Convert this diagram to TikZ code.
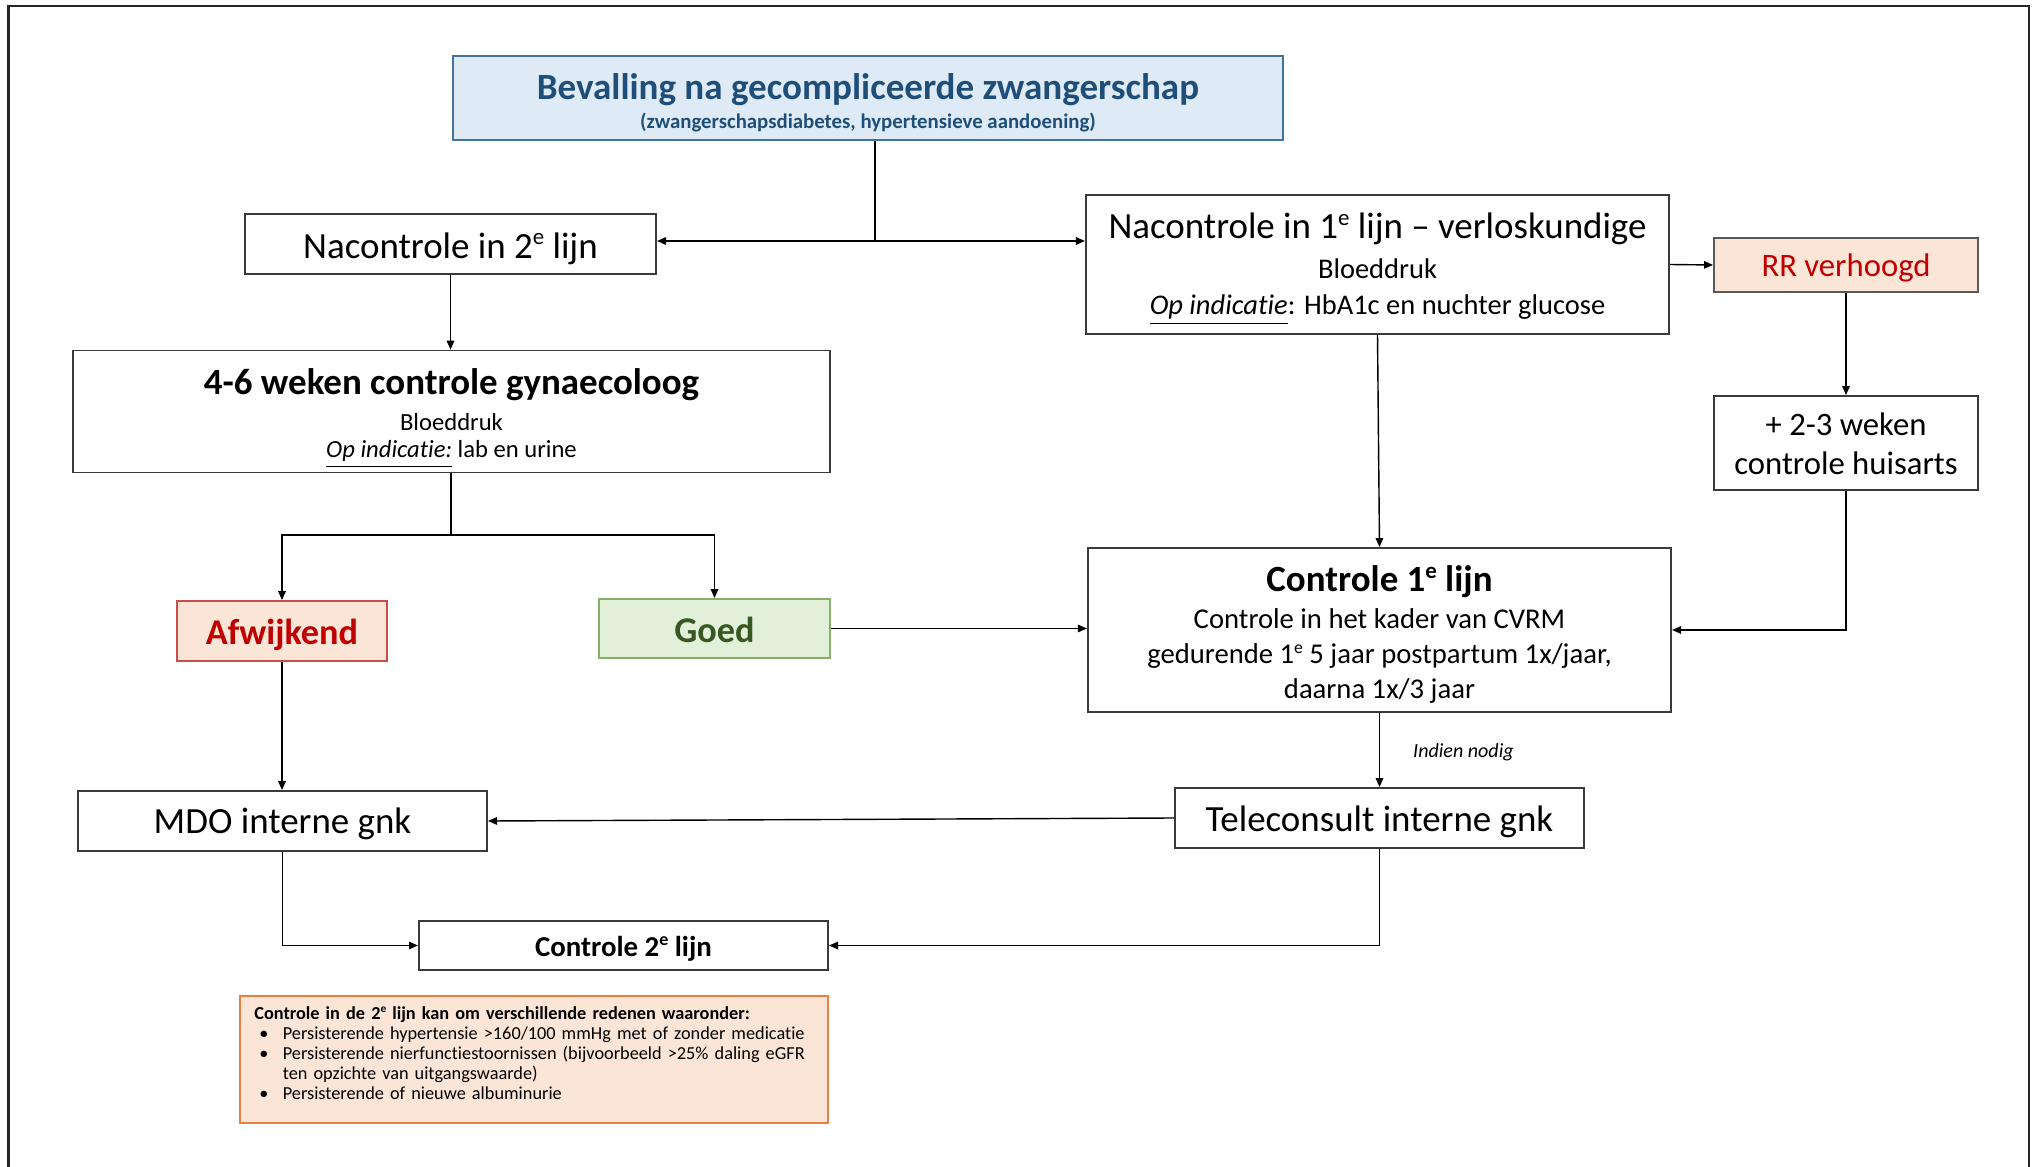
\documentclass[tikz,border=0pt]{standalone}
\usepackage{fontspec}
\usepackage{graphicx}
\setmainfont{Carlito}[Ligatures={TeX,NoCommon}]
\usetikzlibrary{arrows.meta,calc}
\definecolor{titlefill}{HTML}{DEEBF7}
\definecolor{titleborder}{HTML}{41719C}
\definecolor{titletext}{HTML}{1F4E79}
\definecolor{peach}{HTML}{FBE5D6}
\definecolor{rrborder}{HTML}{595959}
\definecolor{afwborder}{HTML}{CC4B4B}
\definecolor{redtext}{HTML}{C00000}
\definecolor{goedfill}{HTML}{E2F0D9}
\definecolor{goedborder}{HTML}{86B06A}
\definecolor{goedtext}{HTML}{385723}
\definecolor{noteborder}{HTML}{E9803F}
\definecolor{boxgray}{HTML}{3A3A3A}
\newcommand{\fsbig}{\fontsize{10.5pt}{12pt}\selectfont}
\newcommand{\nolsl}{\lineskiplimit=-20pt\relax}
\newcommand{\supe}[1]{\raisebox{0.36em}{\scalebox{0.62}{#1}}}
\newcommand{\tstrut}[1]{\rule{0pt}{#1}}
\newcommand{\bstrut}[1]{\rule[-#1]{0pt}{#1}}
\begin{document}
\begin{tikzpicture}[x=0.01cm,y=-0.01cm]
\tikzset{
  box/.style={draw=boxgray, line width=0.5pt, fill=white, inner sep=0pt, align=center},
  conn/.style={draw=black, line width=0.4pt},
  arr/.style={conn, -{Triangle[length=0.09cm,width=0.075cm]}},
}
\useasboundingbox (0,0) rectangle (2036,1167);
\draw[line width=0.6pt, black!85] (8.5,1167) -- (8.5,6) -- (2029,6) -- (2029,1167);

% nodes
\node[box, draw=titleborder, fill=titlefill, text=titletext,
      minimum width=8.30cm, minimum height=0.84cm,
      font=\bfseries\fontsize{5.92pt}{8.11pt}\selectfont\nolsl] (title) at (868,98)
  {\tstrut{0.40cm}{\fontsize{10.53pt}{12pt}\selectfont Bevalling na gecompliceerde zwangerschap}\\(zwangerschapsdiabetes, hypertensieve aandoening)\bstrut{0.085cm}};

\node[box, minimum width=4.11cm, minimum height=0.60cm, font=\fsbig,
      text height=9.24pt, text depth=1.26pt] (n2) at (450.5,244)
  {Nacontrole in 2\supe{e} lijn};

\node[box, minimum width=5.83cm, minimum height=1.39cm,
      font=\fontsize{8.1pt}{10.1pt}\selectfont\nolsl] (n1) at (1377.5,264.5)
  {\tstrut{0.42cm}{\fsbig Nacontrole in 1\supe{e} lijn \textendash{} verloskundige}\\[1.28pt]
   Bloeddruk\\ \underline{\textit{Op indicatie}}: HbA1c en nuchter glucose\bstrut{0.185cm}};

\node[box, fill=peach, draw=rrborder, text=redtext, minimum width=2.64cm, minimum height=0.54cm,
      font=\fontsize{9.3pt}{11pt}\selectfont, text height=8.0pt, text depth=1.3pt] (rr) at (1846,265) {RR verhoogd};

\node[box, minimum width=2.64cm, minimum height=0.94cm,
      font=\fontsize{9.3pt}{11.1pt}\selectfont\nolsl] (hu) at (1846,443)
  {\tstrut{0.34cm}+ 2-3 weken\\controle huisarts\bstrut{0.096cm}};

\node[box, minimum width=7.57cm, minimum height=1.19cm,
      font=\fontsize{7pt}{7.8pt}\selectfont\nolsl] (g46) at (451.5,411.5)
  {\tstrut{0.44cm}{\fsbig\bfseries 4-6 weken controle gynaecoloog}\\[2.28pt]
   Bloeddruk\\ \underline{\textit{Op indicatie:}} lab en urine\bstrut{0.15cm}};

\node[box, fill=peach, draw=afwborder, text=redtext, minimum width=2.10cm, minimum height=0.60cm,
      font=\bfseries\fontsize{10.3pt}{12pt}\selectfont, text height=9.0pt, text depth=1.3pt] (afw) at (282,631) {Afwijkend};

\node[box, fill=goedfill, draw=goedborder, text=goedtext, minimum width=2.31cm, minimum height=0.59cm,
      font=\bfseries\fontsize{10.3pt}{12pt}\selectfont, text height=9.06pt, text depth=1.24pt] (goed) at (714.5,628.5) {Goed};

\node[box, minimum width=5.83cm, minimum height=1.64cm,
      font=\fontsize{8.15pt}{9.96pt}\selectfont\nolsl] (c1) at (1379.5,630)
  {\tstrut{0.43cm}{\fsbig\bfseries Controle 1\supe{e} lijn}\\[0.57pt]
   Controle in het kader van CVRM\\
   gedurende 1\supe{e} 5 jaar postpartum 1x/jaar,\\
   daarna 1x/3 jaar\bstrut{0.13cm}};

\node[box, minimum width=4.09cm, minimum height=0.60cm, font=\fsbig,
      text height=8.9pt, text depth=1.6pt] (mdo) at (282.5,821)
  {MDO interne gnk};

\node[box, minimum width=4.09cm, minimum height=0.60cm, font=\fsbig,
      text height=9.0pt, text depth=1.5pt] (tele) at (1379.5,818)
  {Teleconsult interne gnk};

\node[box, minimum width=4.09cm, minimum height=0.49cm,
      font=\bfseries\fontsize{8.2pt}{10pt}\selectfont, text height=7.1pt, text depth=1.1pt] (c2) at (623.5,945.5)
  {Controle 2\supe{e} lijn};

\node[box, fill=peach, draw=noteborder, minimum width=5.88cm, minimum height=1.27cm,
      text width=5.59cm, inner xsep=0.145cm, align=left,
      font=\fontsize{5.2pt}{5.72pt}\selectfont\nolsl] (note) at (534,1059.5)
  {\mbox{\tstrut{0.18cm}\textbf{Controle in de 2\supe{e} lijn kan om verschillende redenen waaronder:}}\\
   \mbox{\makebox[8.1pt][l]{\hspace{1.4pt}•}Persisterende hypertensie >160/100 mmHg met of zonder medicatie}\\
   \mbox{\makebox[8.1pt][l]{\hspace{1.4pt}•}Persisterende nierfunctiestoornissen (bijvoorbeeld >25\% daling eGFR}\\
   \mbox{\hspace*{8.1pt}ten opzichte van uitgangswaarde)}\\
   \mbox{\makebox[8.1pt][l]{\hspace{1.4pt}•}Persisterende of nieuwe albuminurie\bstrut{0.185cm}}};

% connectors
\coordinate (j1) at (875,241);
\coordinate (j2) at (451,535);
\draw[conn] (title.south -| j1) -- (j1);
\draw[arr] (j1) -- (n2.east |- j1);
\draw[arr] (j1) -- (n1.west |- j1);
\draw[arr] (n2.south) -- (n2.south |- g46.north);
\draw[conn] (g46.south -| j2) -- (j2);
\draw[arr] (j2) -| (afw.north);
\draw[arr] (j2) -| (goed.north);
\draw[arr] (afw.south) -- (afw.south |- mdo.north);
\draw[arr] (goed.east) -- (c1.west |- goed.east);
\draw[arr] (n1.south) -- (c1.north);
\draw[arr] (n1.east) -- (rr.west);
\draw[arr] (rr.south) -- (hu.north);
\draw[arr] (hu.south) |- (c1.east);
\draw[arr] (c1.south) -- node[pos=0.5, anchor=west, inner sep=0pt, xshift=0.33cm, yshift=-0.026cm,
      font=\itshape\fontsize{5.7pt}{7pt}\selectfont] (lbl) {Indien nodig} (tele.north);
\draw[arr] (tele.west) -- (mdo.east);
\draw[arr] (mdo.south) |- (c2.west);
\draw[arr] (tele.south) |- (c2.east);
\end{tikzpicture}
\end{document}
